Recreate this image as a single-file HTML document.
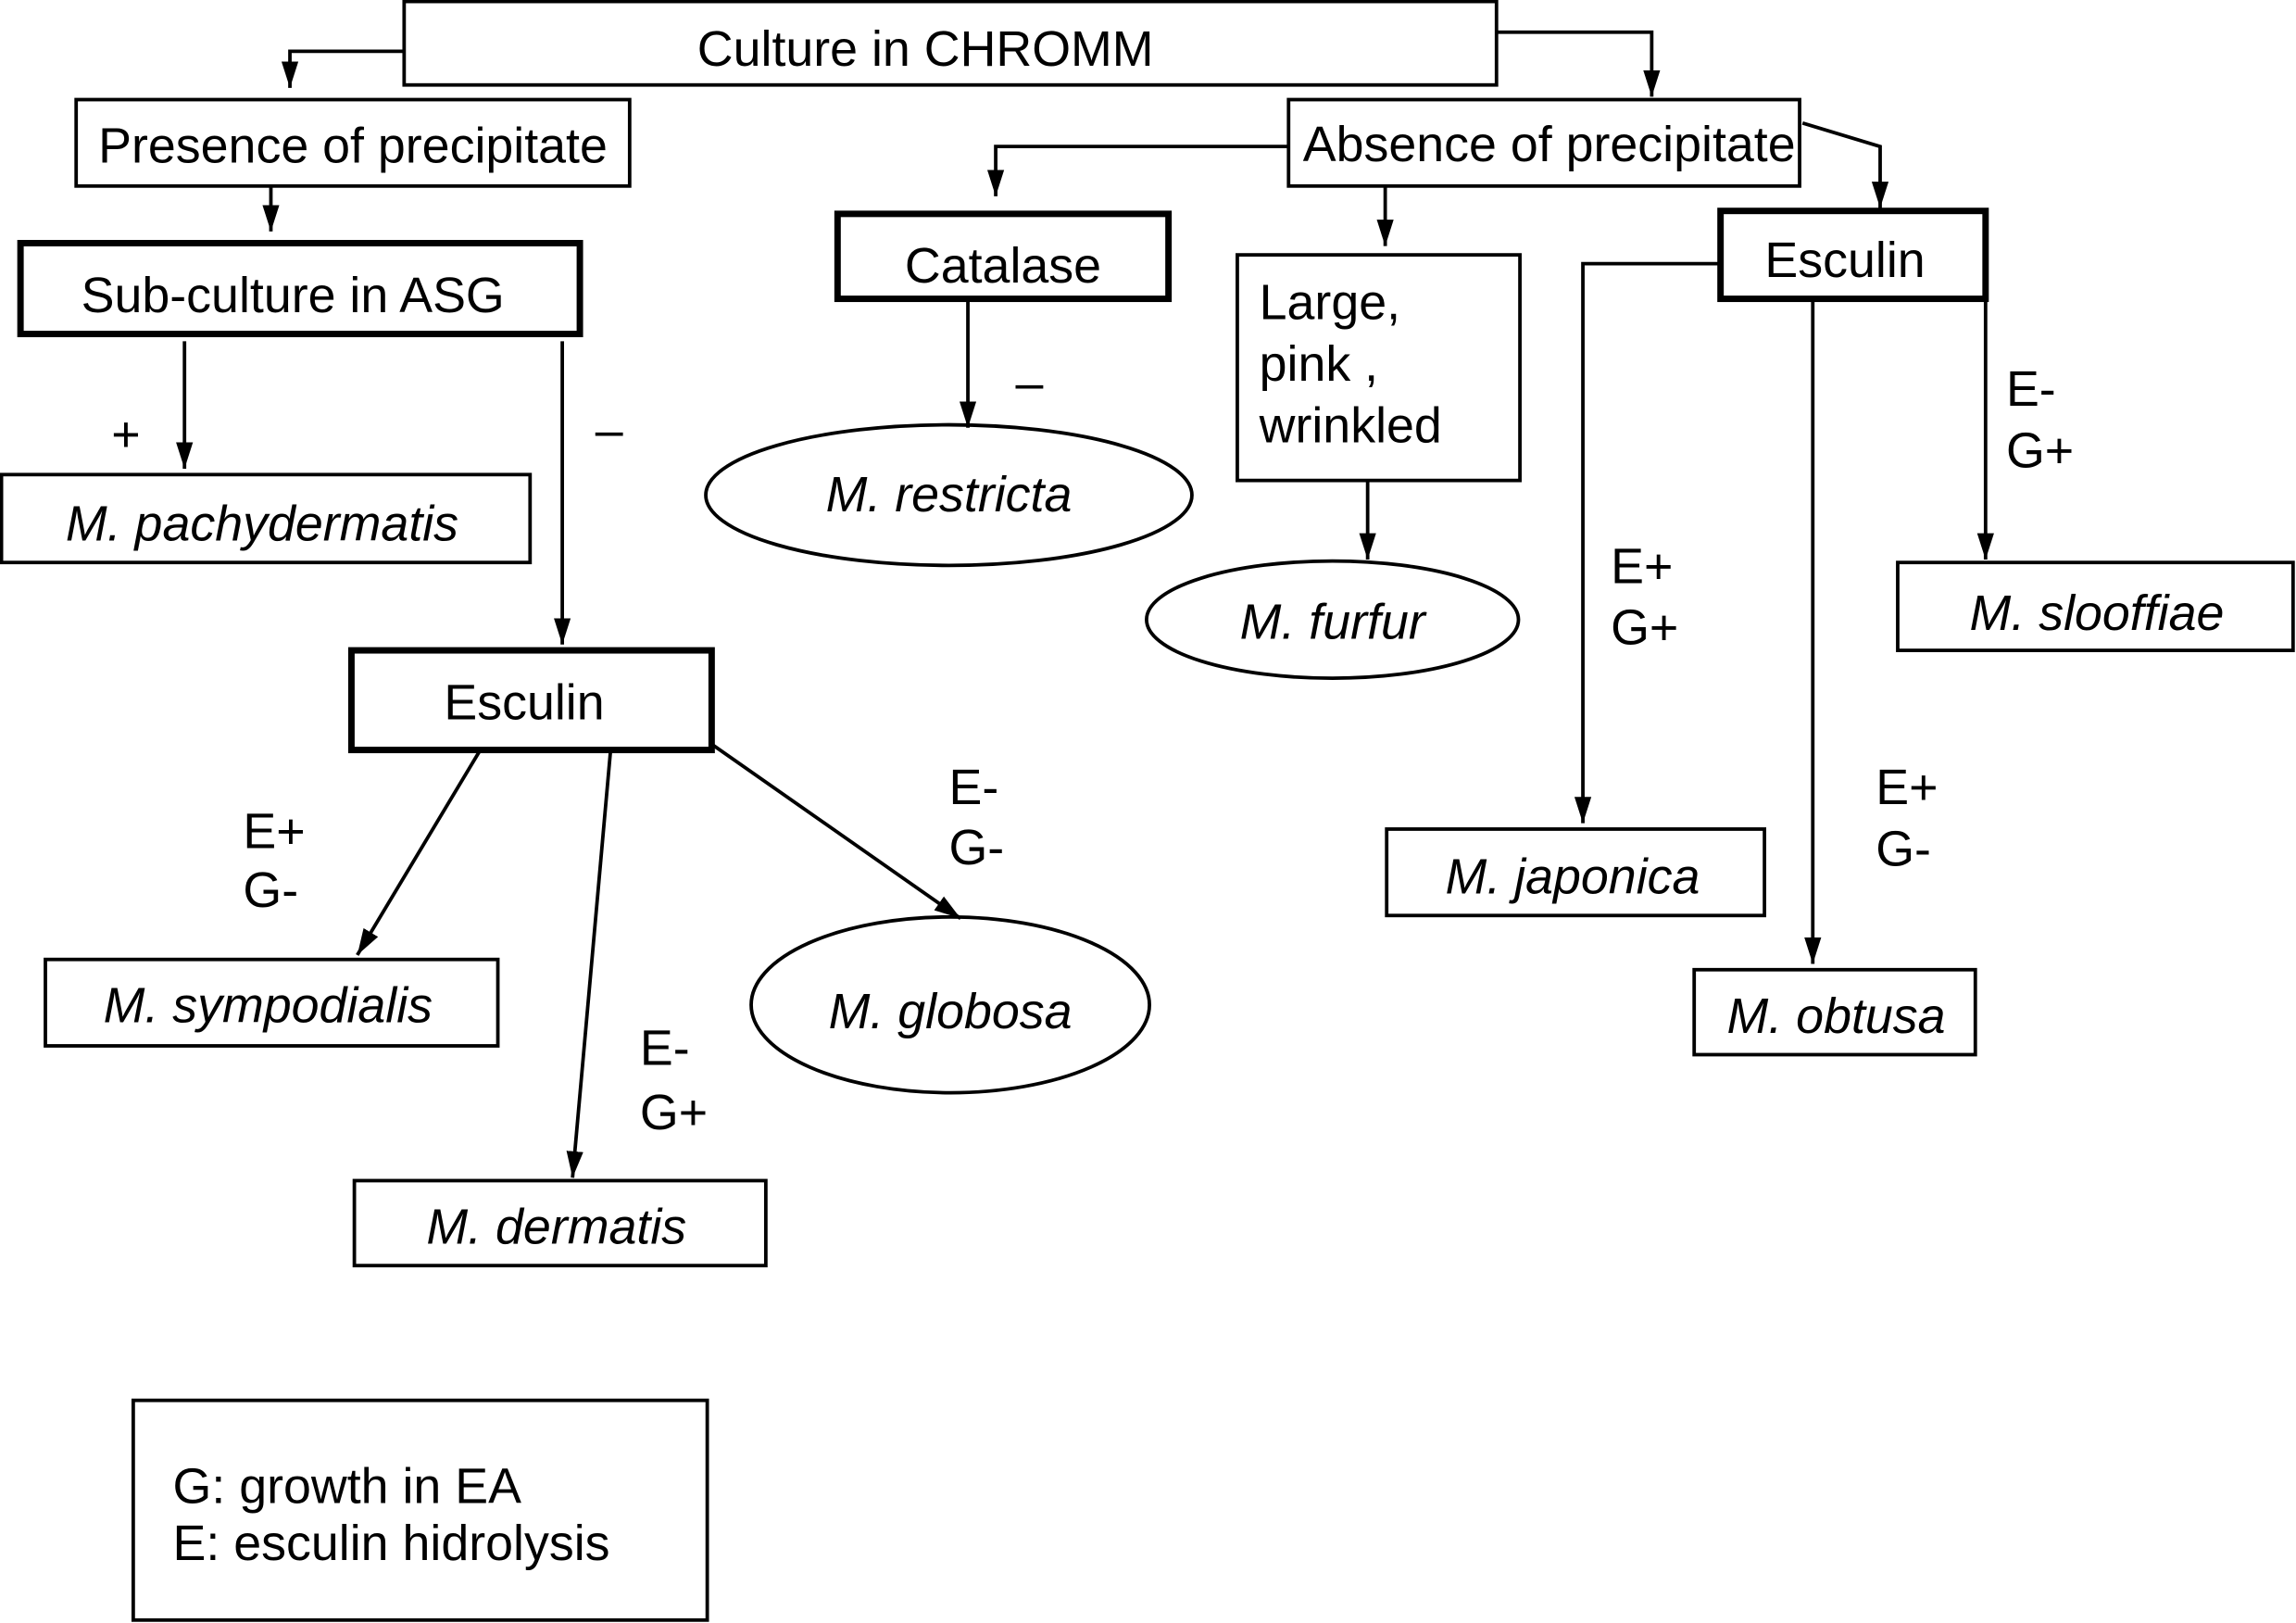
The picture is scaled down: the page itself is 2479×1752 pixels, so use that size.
<!DOCTYPE html>
<html><head><meta charset="utf-8"><style>
html,body{margin:0;padding:0;background:#fff}
svg{display:block}
text{font-family:"Liberation Sans",Arial,sans-serif;font-size:34px;fill:#000}
.i{font-style:italic}
</style></head><body>
<svg width="2479" height="1752" viewBox="0 0 1568 1108" preserveAspectRatio="none" xmlns="http://www.w3.org/2000/svg">
<defs>
<marker id="b" viewBox="0 0 10 10" refX="10" refY="5" markerWidth="18" markerHeight="18" markerUnits="userSpaceOnUse" orient="auto"><path d="M0,1.8L10,5L0,8.2z" fill="#000"/></marker></defs>
<g fill="none" stroke="#000" stroke-width="2.4">
<rect x="276" y="1" width="746" height="57"/>
<rect x="52" y="68" width="378" height="59"/>
<rect x="1" y="324" width="361" height="60"/>
<rect x="31" y="655" width="309" height="59"/>
<rect x="242" y="806" width="281" height="58"/>
<rect x="880" y="68" width="349" height="59"/>
<rect x="845" y="174" width="193" height="154"/>
<rect x="947" y="566" width="258" height="59"/>
<rect x="1157" y="662" width="192" height="58"/>
<rect x="1296" y="384" width="270" height="60"/>
<rect x="91" y="956" width="392" height="150"/>
<ellipse cx="649" cy="686" rx="136" ry="60"/>
<ellipse cx="648" cy="338" rx="166" ry="48"/>
<ellipse cx="910" cy="423" rx="127" ry="40"/>
</g>
<g fill="none" stroke="#000" stroke-width="4.4">
<rect x="14" y="166" width="382" height="62"/>
<rect x="240" y="444" width="246" height="68"/>
<rect x="572" y="146" width="226" height="58"/>
<rect x="1175" y="144" width="181" height="60"/>
</g>
<g fill="none" stroke="#000" stroke-width="2.4" marker-end="url(#b)">
<polyline points="276,35 198,35 198,60"/>
<polyline points="1022,22 1128,22 1128,66"/>
<line x1="185" y1="127" x2="185" y2="158"/>
<line x1="126" y1="233" x2="126" y2="320"/>
<line x1="384" y1="233" x2="384" y2="440"/>
<line x1="328" y1="512" x2="244" y2="652"/>
<line x1="417" y1="512" x2="391" y2="804"/>
<line x1="486" y1="508" x2="656" y2="627"/>
<polyline points="880,100 680,100 680,134"/>
<line x1="946" y1="127" x2="946" y2="168"/>
<polyline points="1231,84 1284,100 1284,142"/>
<line x1="661" y1="204" x2="661" y2="292"/>
<line x1="934" y1="328" x2="934" y2="382"/>
<polyline points="1175,180 1081,180 1081,562"/>
<line x1="1238" y1="204" x2="1238" y2="658"/>
<line x1="1356" y1="204" x2="1356" y2="382"/>
</g>
<text x="632" y="45" text-anchor="middle">Culture in CHROMM</text>
<text x="241" y="111" text-anchor="middle">Presence of precipitate</text>
<text x="200" y="213" text-anchor="middle">Sub-culture in ASG</text>
<text x="86" y="308" text-anchor="middle">+</text>
<text x="416" y="305" text-anchor="middle">–</text>
<text class="i" x="179" y="369" text-anchor="middle">M. pachydermatis</text>
<text x="358" y="491" text-anchor="middle">Esculin</text>
<text x="166" y="579">E+</text><text x="166" y="619">G-</text>
<text x="437" y="727">E-</text><text x="437" y="771">G+</text>
<text x="648" y="549">E-</text><text x="648" y="590">G-</text>
<text class="i" x="183" y="698" text-anchor="middle">M. sympodialis</text>
<text class="i" x="380" y="849" text-anchor="middle">M. dermatis</text>
<text class="i" x="649" y="702" text-anchor="middle">M. globosa</text>
<text x="1058" y="110" text-anchor="middle">Absence of precipitate</text>
<text x="685" y="193" text-anchor="middle">Catalase</text>
<text x="703" y="273" text-anchor="middle">–</text>
<text class="i" x="648" y="349" text-anchor="middle">M. restricta</text>
<text x="860" y="218">Large,</text>
<text x="860" y="260">pink ,</text>
<text x="860" y="302">wrinkled</text>
<text class="i" x="910" y="436" text-anchor="middle">M. furfur</text>
<text x="1260" y="189" text-anchor="middle">Esculin</text>
<text x="1100" y="398">E+</text><text x="1100" y="440">G+</text>
<text x="1281" y="549">E+</text><text x="1281" y="591">G-</text>
<text x="1370" y="277">E-</text><text x="1370" y="319">G+</text>
<text class="i" x="1074" y="610" text-anchor="middle">M. japonica</text>
<text class="i" x="1254" y="705" text-anchor="middle">M. obtusa</text>
<text class="i" x="1432" y="430" text-anchor="middle">M. slooffiae</text>
<text x="118" y="1026">G: growth in EA</text>
<text x="118" y="1065">E: esculin hidrolysis</text>
</svg>
</body></html>
